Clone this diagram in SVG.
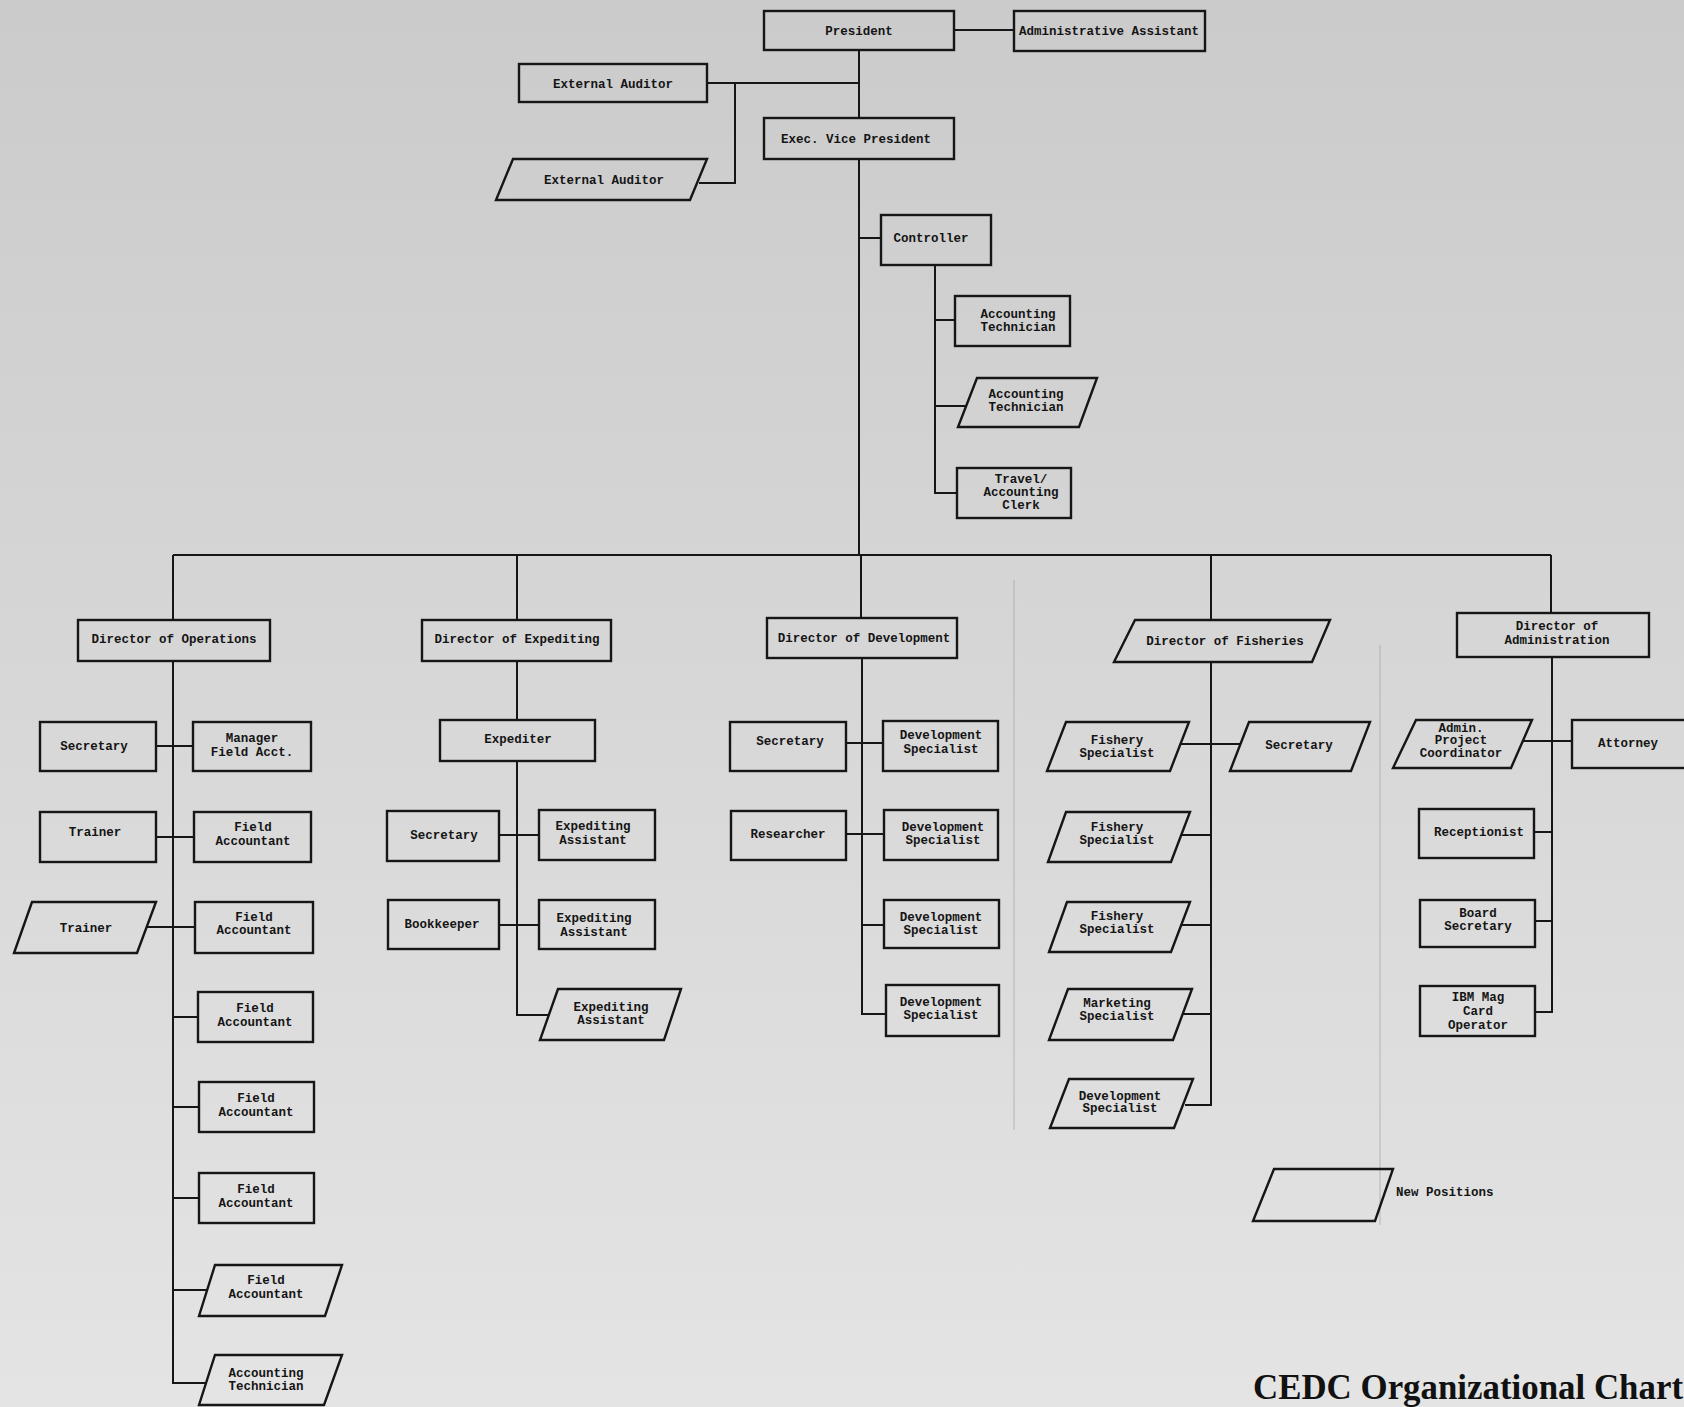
<svg xmlns="http://www.w3.org/2000/svg" width="1684" height="1407" viewBox="0 0 1684 1407">
<defs>
<linearGradient id="paper" x1="0" y1="0" x2="0" y2="1">
<stop offset="0" stop-color="#cbcbcb"/>
<stop offset="0.45" stop-color="#d6d6d6"/>
<stop offset="1" stop-color="#e4e4e4"/>
</linearGradient>
<style>
.box{fill:none;stroke:#161616;stroke-width:2.4}
.ln{fill:none;stroke:#161616;stroke-width:2}
.fold{fill:none;stroke:#9a9a9a;stroke-width:1;opacity:0.6}
.t{font-family:"Liberation Mono","DejaVu Sans Mono",monospace;font-weight:bold;font-size:12.5px;fill:#141414;text-anchor:middle}
.title{font-family:"Liberation Serif","DejaVu Serif",serif;font-weight:bold;font-size:35px;fill:#111}
</style>
</defs>
<rect x="0" y="0" width="1684" height="1407" fill="url(#paper)"/>
<line class="fold" x1="1014" y1="580" x2="1014" y2="1130"/>
<line class="fold" x1="1380" y1="645" x2="1380" y2="1225"/>

<g id="connectors">
<path class="ln" d="M954 30 H1014"/>
<path class="ln" d="M859 50 V118 M859 159 V555"/>
<path class="ln" d="M707 83 H859"/>
<path class="ln" d="M735 83 V183 H699"/>
<path class="ln" d="M859 238 H881"/>
<path class="ln" d="M935 265 V493 H957"/>
<path class="ln" d="M935 320 H955"/>
<path class="ln" d="M935 406 H966"/>
<path class="ln" d="M173 555 H1551"/>
<path class="ln" d="M173 555 V620 M517 555 V620 M861 555 V618 M1211 555 V620 M1551 555 V613"/>
<path class="ln" d="M173 661 V1383 H206"/>
<path class="ln" d="M156 746 H193 M156 837 H194 M147 927 H195 M173 1017 H198 M173 1107 H199 M173 1198 H199 M173 1290 H207"/>
<path class="ln" d="M517 661 V720 M517 761 V1015 H549"/>
<path class="ln" d="M499 835 H539 M499 925 H539"/>
<path class="ln" d="M862 658 V1014 H886"/>
<path class="ln" d="M846 743 H883 M846 834 H884 M862 925 H884"/>
<path class="ln" d="M1211 662 V1105 H1185"/>
<path class="ln" d="M1180 744 H1240 M1181 835 H1211 M1181 925 H1211 M1183 1014 H1211"/>
<path class="ln" d="M1552 657 V1012 H1535"/>
<path class="ln" d="M1523 741 H1572 M1534 832 H1552 M1535 921 H1552"/>
</g>

<g id="president"><rect class="box" x="764" y="11" width="190" height="39"/><text class="t" x="859" y="35">President</text></g>
<g id="admin-assistant"><rect class="box" x="1014" y="11" width="191" height="40"/><text class="t" x="1109" y="35">Administrative Assistant</text></g>
<g id="external-auditor-1"><rect class="box" x="519" y="64" width="188" height="38"/><text class="t" x="613" y="88">External Auditor</text></g>
<g id="external-auditor-2"><polygon class="box" points="513,159 707,159 690,200 496,200"/><text class="t" x="604" y="184">External Auditor</text></g>
<g id="exec-vp"><rect class="box" x="764" y="118" width="190" height="41"/><text class="t" x="856" y="143">Exec. Vice President</text></g>
<g id="controller"><rect class="box" x="881" y="215" width="110" height="50"/><text class="t" x="931" y="242">Controller</text></g>
<g id="acct-tech-1"><rect class="box" x="955" y="296" width="115" height="50"/><text class="t" x="1018" y="318">Accounting</text><text class="t" x="1018" y="331">Technician</text></g>
<g id="acct-tech-2"><polygon class="box" points="977,378 1097,378 1079,427 958,427"/><text class="t" x="1026" y="398">Accounting</text><text class="t" x="1026" y="411">Technician</text></g>
<g id="travel-clerk"><rect class="box" x="957" y="468" width="114" height="50"/><text class="t" x="1021" y="483">Travel/</text><text class="t" x="1021" y="496">Accounting</text><text class="t" x="1021" y="509">Clerk</text></g>

<g id="dir-operations"><rect class="box" x="78" y="620" width="192" height="41"/><text class="t" x="174" y="643">Director of Operations</text></g>
<g id="ops-secretary"><rect class="box" x="40" y="722" width="116" height="49"/><text class="t" x="94" y="750">Secretary</text></g>
<g id="ops-manager"><rect class="box" x="193" y="722" width="118" height="49"/><text class="t" x="252" y="742">Manager</text><text class="t" x="252" y="756">Field Acct.</text></g>
<g id="ops-trainer-1"><rect class="box" x="40" y="812" width="116" height="50"/><text class="t" x="95" y="836">Trainer</text></g>
<g id="ops-fa-1"><rect class="box" x="194" y="812" width="117" height="50"/><text class="t" x="253" y="831">Field</text><text class="t" x="253" y="845">Accountant</text></g>
<g id="ops-trainer-2"><polygon class="box" points="32,902 156,902 137,953 14,953"/><text class="t" x="86" y="932">Trainer</text></g>
<g id="ops-fa-2"><rect class="box" x="195" y="902" width="118" height="51"/><text class="t" x="254" y="921">Field</text><text class="t" x="254" y="934">Accountant</text></g>
<g id="ops-fa-3"><rect class="box" x="198" y="992" width="115" height="50"/><text class="t" x="255" y="1012">Field</text><text class="t" x="255" y="1026">Accountant</text></g>
<g id="ops-fa-4"><rect class="box" x="199" y="1082" width="115" height="50"/><text class="t" x="256" y="1102">Field</text><text class="t" x="256" y="1116">Accountant</text></g>
<g id="ops-fa-5"><rect class="box" x="199" y="1173" width="115" height="50"/><text class="t" x="256" y="1193">Field</text><text class="t" x="256" y="1207">Accountant</text></g>
<g id="ops-fa-6"><polygon class="box" points="215,1265 342,1265 325,1316 199,1316"/><text class="t" x="266" y="1284">Field</text><text class="t" x="266" y="1298">Accountant</text></g>
<g id="ops-acct-tech"><polygon class="box" points="215,1355 342,1355 324,1405 199,1405"/><text class="t" x="266" y="1377">Accounting</text><text class="t" x="266" y="1390">Technician</text></g>

<g id="dir-expediting"><rect class="box" x="422" y="620" width="189" height="41"/><text class="t" x="517" y="643">Director of Expediting</text></g>
<g id="expediter"><rect class="box" x="440" y="720" width="155" height="41"/><text class="t" x="518" y="743">Expediter</text></g>
<g id="exp-secretary"><rect class="box" x="387" y="811" width="112" height="50"/><text class="t" x="444" y="839">Secretary</text></g>
<g id="exp-asst-1"><rect class="box" x="539" y="810" width="116" height="50"/><text class="t" x="593" y="830">Expediting</text><text class="t" x="593" y="844">Assistant</text></g>
<g id="bookkeeper"><rect class="box" x="388" y="900" width="111" height="49"/><text class="t" x="442" y="928">Bookkeeper</text></g>
<g id="exp-asst-2"><rect class="box" x="539" y="900" width="116" height="49"/><text class="t" x="594" y="922">Expediting</text><text class="t" x="594" y="936">Assistant</text></g>
<g id="exp-asst-3"><polygon class="box" points="558,989 681,989 664,1040 540,1040"/><text class="t" x="611" y="1011">Expediting</text><text class="t" x="611" y="1024">Assistant</text></g>

<g id="dir-development"><rect class="box" x="767" y="618" width="190" height="40"/><text class="t" x="864" y="642">Director of Development</text></g>
<g id="dev-secretary"><rect class="box" x="730" y="722" width="116" height="49"/><text class="t" x="790" y="745">Secretary</text></g>
<g id="dev-spec-1"><rect class="box" x="883" y="721" width="115" height="50"/><text class="t" x="941" y="739">Development</text><text class="t" x="941" y="753">Specialist</text></g>
<g id="researcher"><rect class="box" x="731" y="811" width="115" height="49"/><text class="t" x="788" y="838">Researcher</text></g>
<g id="dev-spec-2"><rect class="box" x="884" y="810" width="114" height="50"/><text class="t" x="943" y="831">Development</text><text class="t" x="943" y="844">Specialist</text></g>
<g id="dev-spec-3"><rect class="box" x="884" y="900" width="115" height="48"/><text class="t" x="941" y="921">Development</text><text class="t" x="941" y="934">Specialist</text></g>
<g id="dev-spec-4"><rect class="box" x="886" y="985" width="113" height="51"/><text class="t" x="941" y="1006">Development</text><text class="t" x="941" y="1019">Specialist</text></g>

<g id="dir-fisheries"><polygon class="box" points="1135,620 1330,620 1312,662 1114,662"/><text class="t" x="1225" y="645">Director of Fisheries</text></g>
<g id="fish-spec-1"><polygon class="box" points="1066,722 1189,722 1170,771 1047,771"/><text class="t" x="1117" y="744">Fishery</text><text class="t" x="1117" y="757">Specialist</text></g>
<g id="fish-secretary"><polygon class="box" points="1249,722 1370,722 1351,771 1230,771"/><text class="t" x="1299" y="749">Secretary</text></g>
<g id="fish-spec-2"><polygon class="box" points="1066,812 1190,812 1171,862 1048,862"/><text class="t" x="1117" y="831">Fishery</text><text class="t" x="1117" y="844">Specialist</text></g>
<g id="fish-spec-3"><polygon class="box" points="1067,902 1190,902 1171,952 1049,952"/><text class="t" x="1117" y="920">Fishery</text><text class="t" x="1117" y="933">Specialist</text></g>
<g id="marketing-spec"><polygon class="box" points="1068,989 1192,989 1173,1040 1049,1040"/><text class="t" x="1117" y="1007">Marketing</text><text class="t" x="1117" y="1020">Specialist</text></g>
<g id="fish-dev-spec"><polygon class="box" points="1069,1079 1193,1079 1174,1128 1050,1128"/><text class="t" x="1120" y="1100">Development</text><text class="t" x="1120" y="1112">Specialist</text></g>

<g id="dir-administration"><rect class="box" x="1457" y="613" width="192" height="44"/><text class="t" x="1557" y="630">Director of</text><text class="t" x="1557" y="644">Administration</text></g>
<g id="admin-coordinator"><polygon class="box" points="1416,720 1532,720 1511,768 1393,768"/><text class="t" x="1461" y="732">Admin.</text><text class="t" x="1461" y="744">Project</text><text class="t" x="1461" y="757">Coordinator</text></g>
<g id="attorney"><rect class="box" x="1572" y="720" width="130" height="48"/><text class="t" x="1628" y="747">Attorney</text></g>
<g id="receptionist"><rect class="box" x="1419" y="809" width="115" height="49"/><text class="t" x="1479" y="836">Receptionist</text></g>
<g id="board-secretary"><rect class="box" x="1420" y="900" width="115" height="47"/><text class="t" x="1478" y="917">Board</text><text class="t" x="1478" y="930">Secretary</text></g>
<g id="ibm-operator"><rect class="box" x="1420" y="986" width="115" height="50"/><text class="t" x="1478" y="1001">IBM Mag</text><text class="t" x="1478" y="1015">Card</text><text class="t" x="1478" y="1029">Operator</text></g>

<g id="legend"><polygon class="box" points="1274,1169 1393,1169 1375,1221 1253,1221"/><text class="t" x="1396" y="1196" style="text-anchor:start">New Positions</text></g>
<text class="title" x="1253" y="1399" textLength="430" lengthAdjust="spacingAndGlyphs">CEDC Organizational Chart</text>
</svg>
